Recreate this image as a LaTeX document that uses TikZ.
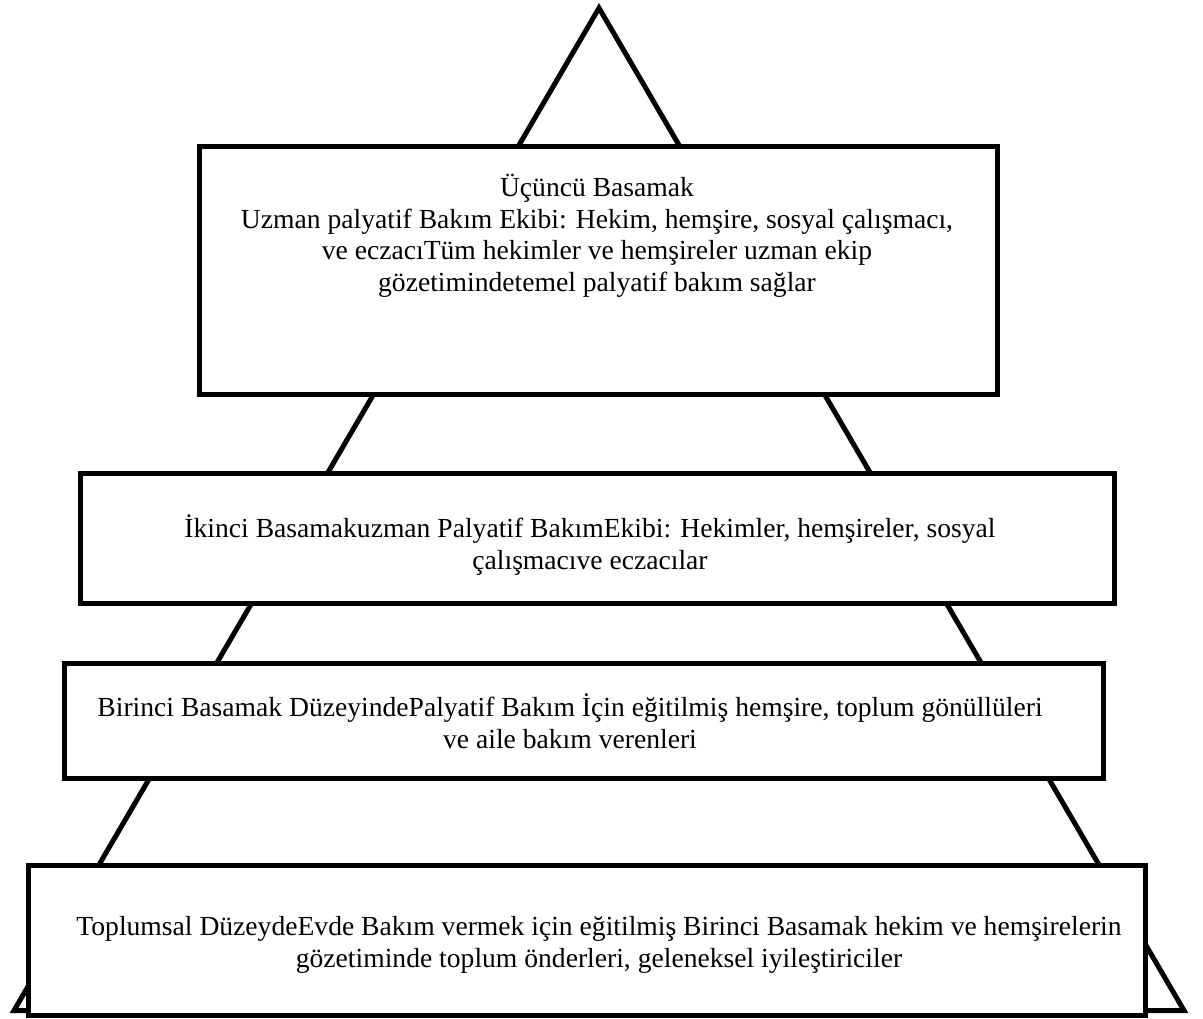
\documentclass[tikz,border=0pt]{standalone}
\usepackage{fontspec}
\setmainfont{Liberation Serif}
\begin{document}
\begin{tikzpicture}[x=1pt,y=-1pt,
  outline/.style={draw=black,line width=5pt,line join=miter},
  tier/.style={outline,fill=white},
  tiertext/.style={align=center,font=\fontsize{27.6}{31.5}\selectfont,inner sep=0pt}]
\useasboundingbox (0,0) rectangle (1203,1019);
% pyramid outline
\coordinate (apex) at (599,8);
\coordinate (bl) at (14,1010.5);
\coordinate (br) at (1184,1010.5);
\draw[outline] (apex) -- (br) -- (bl) -- cycle;
% tiers, from top to bottom
\draw[tier] (199.5,146.5) rectangle (997.5,394.5);
\draw[tier] (80.5,473.5) rectangle (1114.5,603.5);
\draw[tier] (64,663) rectangle (1103,778);
\draw[tier] (28.5,865) rectangle (1145.5,1015.5);
\node[tiertext] (t3) at (597,236) {Üçüncü Basamak\\Uzman palyatif Bakım Ekibi: Hekim, hemşire, sosyal çalışmacı,\\ve eczacıTüm hekimler ve hemşireler uzman ekip\\gözetimindetemel palyatif bakım sağlar};
\node[tiertext] (t2) at (590,545) {İkinci Basamakuzman Palyatif BakımEkibi: Hekimler, hemşireler, sosyal\\çalışmacıve eczacılar};
\node[tiertext] (t1) at (570,721) {Birinci Basamak DüzeyindePalyatif Bakım İçin eğitilmiş hemşire, toplum gönüllüleri\\ve aile bakım verenleri};
\node[tiertext] (t0) at (599,945) {Toplumsal DüzeydeEvde Bakım vermek için eğitilmiş Birinci Basamak hekim ve hemşirelerin\\gözetiminde toplum önderleri, geleneksel iyileştiriciler};
\end{tikzpicture}
\end{document}
